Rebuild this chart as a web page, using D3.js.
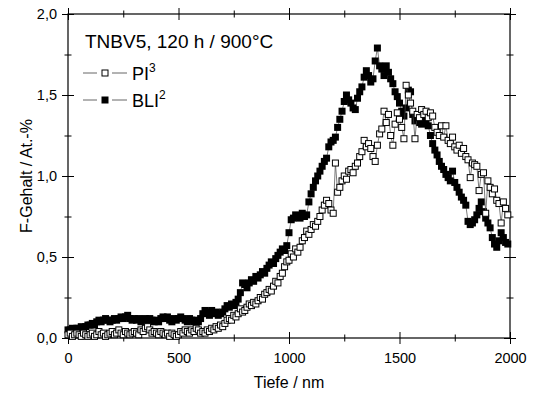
<!DOCTYPE html>
<html>
<head>
<meta charset="utf-8">
<script src="https://cdnjs.cloudflare.com/ajax/libs/d3/7.8.5/d3.min.js"></script>
<style>
  body { margin: 0; background: #fff; }
  svg { font-family: "Liberation Sans", Arial, sans-serif; }
</style>
</head>
<body>
<svg id="chart" width="535" height="394"></svg>
<script>
// depth in nm, shared by both profiles
const depth = [
    0, 10, 20, 30, 40, 50, 60, 70, 80, 90,
    100, 110, 120, 130, 140, 150, 160, 170, 180, 190,
    200, 210, 220, 230, 240, 250, 260, 270, 280, 290,
    300, 310, 320, 330, 340, 350, 360, 370, 380, 390,
    400, 410, 420, 430, 440, 450, 460, 470, 480, 490,
    500, 510, 520, 530, 540, 550, 560, 570, 580, 590,
    600, 610, 620, 630, 640, 650, 660, 670, 680, 690,
    700, 710, 720, 730, 740, 750, 760, 770, 780, 790,
    800, 810, 820, 830, 840, 850, 860, 870, 880, 890,
    900, 910, 920, 930, 940, 950, 960, 970, 980, 990,
    1000, 1010, 1020, 1030, 1040, 1050, 1060, 1070, 1080, 1090,
    1100, 1110, 1120, 1130, 1140, 1150, 1160, 1170, 1180, 1190,
    1200, 1210, 1220, 1230, 1240, 1250, 1260, 1270, 1280, 1290,
    1300, 1310, 1320, 1330, 1340, 1350, 1360, 1370, 1380, 1390,
    1400, 1410, 1420, 1430, 1440, 1450, 1460, 1470, 1480, 1490,
    1500, 1510, 1520, 1530, 1540, 1550, 1560, 1570, 1580, 1590,
    1600, 1610, 1620, 1630, 1640, 1650, 1660, 1670, 1680, 1690,
    1700, 1710, 1720, 1730, 1740, 1750, 1760, 1770, 1780, 1790,
    1800, 1810, 1820, 1830, 1840, 1850, 1860, 1870, 1880, 1890,
    1900, 1910, 1920, 1930, 1940, 1950, 1960, 1970, 1980, 1990
];

// F content (at.-%), PI^3 treatment (open squares)
const pi3 = [
    0.02, 0.03, 0.01, 0.02, 0.03, 0.02, 0.01, 0.03, 0.02, 0.01,
    0.02, 0.03, 0.01, 0.02, 0.04, 0.02, 0.03, 0.01, 0.02, 0.03,
    0.04, 0.02, 0.03, 0.05, 0.03, 0.02, 0.04, 0.03, 0.02, 0.03,
    0.04, 0.03, 0.02, 0.05, 0.04, 0.06, 0.07, 0.05, 0.03, 0.04,
    0.03, 0.02, 0.04, 0.03, 0.02, 0.03, 0.01, 0.03, 0.02, 0.01,
    0.02, 0.04, 0.03, 0.05, 0.04, 0.03, 0.05, 0.04, 0.06, 0.05,
    0.03, 0.04, 0.03, 0.05, 0.04, 0.06, 0.05, 0.07, 0.06, 0.08,
    0.07, 0.09, 0.11, 0.12, 0.11, 0.14, 0.13, 0.15, 0.18, 0.16,
    0.17, 0.19, 0.21, 0.20, 0.22, 0.21, 0.23, 0.25, 0.24, 0.27,
    0.28, 0.30, 0.29, 0.32, 0.35, 0.34, 0.38, 0.40, 0.44, 0.47,
    0.48, 0.52, 0.50, 0.55, 0.53, 0.56, 0.60, 0.62, 0.66, 0.64,
    0.67, 0.70, 0.69, 0.72, 0.75, 0.79, 0.82, 0.85, 0.83, 0.79,
    0.77, 1.08, 0.90, 0.93, 0.97, 1.00, 0.98, 1.03, 1.04, 1.02,
    1.06, 1.08, 1.12, 1.15, 1.22, 1.18, 1.20, 1.17, 1.12, 1.09,
    1.19, 1.26, 1.29, 1.40, 1.33, 1.38, 1.25, 1.19, 1.32, 1.39,
    1.35, 1.30, 1.23, 1.56, 1.50, 1.45, 1.40, 1.23, 1.38, 1.36,
    1.41, 1.38, 1.40, 1.36, 1.39, 1.37, 1.30, 1.27, 1.25, 1.31,
    1.24, 1.31, 1.22, 1.20, 1.24, 1.18, 1.16, 1.19, 1.14, 1.17,
    1.12, 1.10, 0.99, 1.08, 1.07, 1.06, 0.91, 1.01, 1.02, 0.77,
    0.97, 0.93, 0.89, 0.92, 0.85, 0.83, 0.71, 0.84, 0.80, 0.76
];

// F content (at.-%), BLI^2 treatment (filled squares)
const bli2 = [
    0.05, 0.05, 0.06, 0.05, 0.06, 0.06, 0.07, 0.06, 0.07, 0.08,
    0.08, 0.09, 0.08, 0.10, 0.11, 0.10, 0.11, 0.12, 0.11, 0.10,
    0.11, 0.12, 0.11, 0.12, 0.13, 0.12, 0.13, 0.14, 0.12, 0.11,
    0.12, 0.11, 0.12, 0.10, 0.11, 0.12, 0.11, 0.12, 0.11, 0.10,
    0.11, 0.10, 0.12, 0.13, 0.12, 0.13, 0.11, 0.10, 0.12, 0.11,
    0.12, 0.13, 0.12, 0.11, 0.10, 0.12, 0.11, 0.10, 0.11, 0.10,
    0.12, 0.15, 0.17, 0.16, 0.14, 0.17, 0.15, 0.16, 0.14, 0.15,
    0.16, 0.18, 0.20, 0.19, 0.21, 0.20, 0.22, 0.24, 0.28, 0.34,
    0.33, 0.31, 0.34, 0.36, 0.35, 0.38, 0.37, 0.39, 0.41, 0.40,
    0.43, 0.45, 0.47, 0.46, 0.49, 0.51, 0.53, 0.55, 0.54, 0.57,
    0.65, 0.73, 0.74, 0.76, 0.75, 0.74, 0.77, 0.75, 0.76, 0.84,
    0.89, 0.93, 0.97, 1.00, 1.03, 1.06, 1.09, 1.11, 1.18, 1.21,
    1.22, 1.24, 1.30, 1.35, 1.40, 1.46, 1.50, 1.47, 1.45, 1.42,
    1.41, 1.48, 1.52, 1.55, 1.61, 1.65, 1.62, 1.58, 1.60, 1.71,
    1.79, 1.68, 1.66, 1.62, 1.68, 1.64, 1.60, 1.57, 1.52, 1.49,
    1.45, 1.40, 1.37, 1.42, 1.53, 1.52, 1.38, 1.34, 1.37, 1.33,
    1.32, 1.36, 1.33, 1.31, 1.25, 1.20, 1.16, 1.13, 1.09, 1.06,
    1.04, 1.01, 0.99, 0.97, 1.03, 0.96, 0.93, 0.90, 0.87, 0.85,
    0.82, 0.72, 0.70, 0.71, 0.73, 0.76, 0.80, 0.84, 0.78, 0.74,
    0.71, 0.68, 0.62, 0.58, 0.56, 0.60, 0.65, 0.62, 0.59, 0.58
];

const xMajor = [0, 500, 1000, 1500, 2000];
const xMinor = [250, 750, 1250, 1750];
const yMajor = [0, 0.5, 1.0, 1.5, 2.0];
const yMinor = [0.25, 0.75, 1.25, 1.75];

const width = 535;
const height = 394;
const margin = { top: 14, right: 25, bottom: 56, left: 68 };

const svg = d3.select('#chart');

const x = d3.scaleLinear()
    .domain([0, 2000])
    .range([margin.left, width - margin.right]);

const y = d3.scaleLinear()
    .domain([0, 2])
    .range([height - margin.bottom, margin.top]);

const fmtY = d => d3.format('.1f')(d).replace('.', ',');

// helper: draw ticks that cross the axis line
function crossTicks(g, len, vertical) {
    g.select('.domain').remove();
    g.selectAll('.tick line')
        .attr(vertical ? 'x1' : 'y1', -len)
        .attr(vertical ? 'x2' : 'y2', len)
        .attr('stroke', '#000')
        .attr('stroke-width', 1);
}

const yBottom = y(0);
const yTop = y(2);
const xLeft = x(0);
const xRight = x(2000);

// bottom axis with labels
svg.append('g')
    .attr('transform', `translate(0,${yBottom})`)
    .call(d3.axisBottom(x).tickValues(xMajor).tickSize(6).tickPadding(9).tickFormat(d3.format('d')))
    .call(g => crossTicks(g, 6, false))
    .call(g => g.selectAll('text').attr('font-size', 14.5).attr('fill', '#000')
        .attr('font-family', '"Liberation Sans", Arial, sans-serif'));

svg.append('g')
    .attr('transform', `translate(0,${yBottom})`)
    .call(d3.axisBottom(x).tickValues(xMinor).tickFormat(''))
    .call(g => crossTicks(g, 3.5, false));

// top axis, ticks only
svg.append('g')
    .attr('transform', `translate(0,${yTop})`)
    .call(d3.axisTop(x).tickValues(xMajor).tickFormat(''))
    .call(g => crossTicks(g, 6, false));

svg.append('g')
    .attr('transform', `translate(0,${yTop})`)
    .call(d3.axisTop(x).tickValues(xMinor).tickFormat(''))
    .call(g => crossTicks(g, 3.5, false));

// left axis with labels
svg.append('g')
    .attr('transform', `translate(${xLeft},0)`)
    .call(d3.axisLeft(y).tickValues(yMajor).tickSize(6).tickPadding(4).tickFormat(fmtY))
    .call(g => crossTicks(g, 6, true))
    .call(g => g.selectAll('text').attr('x', -11).attr('font-size', 14.5).attr('fill', '#000')
        .attr('font-family', '"Liberation Sans", Arial, sans-serif'));

svg.append('g')
    .attr('transform', `translate(${xLeft},0)`)
    .call(d3.axisLeft(y).tickValues(yMinor).tickFormat(''))
    .call(g => crossTicks(g, 3.5, true));

// right axis, ticks only
svg.append('g')
    .attr('transform', `translate(${xRight},0)`)
    .call(d3.axisRight(y).tickValues(yMajor).tickFormat(''))
    .call(g => crossTicks(g, 6, true));

svg.append('g')
    .attr('transform', `translate(${xRight},0)`)
    .call(d3.axisRight(y).tickValues(yMinor).tickFormat(''))
    .call(g => crossTicks(g, 3.5, true));

// frame
svg.append('rect')
    .attr('x', xLeft)
    .attr('y', yTop)
    .attr('width', xRight - xLeft)
    .attr('height', yBottom - yTop)
    .attr('fill', 'none')
    .attr('stroke', '#000')
    .attr('stroke-width', 1.2);

// axis titles
svg.append('text')
    .attr('x', x(1000))
    .attr('y', 388)
    .attr('text-anchor', 'middle')
    .attr('font-size', 16)
    .text('Tiefe / nm');

svg.append('text')
    .attr('transform', `translate(32,${y(1)}) rotate(-90)`)
    .attr('text-anchor', 'middle')
    .attr('font-size', 16)
    .text('F-Gehalt / At.-%');

// build point lists
const bliData = depth.map((d, i) => ({ d, v: bli2[i] }));
const piData = depth.map((d, i) => ({ d, v: pi3[i] }));

const line = d3.line()
    .x(p => x(p.d))
    .y(p => y(p.v));

const sq = 7;

// BLI^2: line + filled squares
svg.append('path')
    .datum(bliData)
    .attr('d', line)
    .attr('fill', 'none')
    .attr('stroke', '#444')
    .attr('stroke-width', 0.7);

svg.selectAll('.bli')
    .data(bliData)
    .enter()
    .append('rect')
    .attr('class', 'bli')
    .attr('x', p => x(p.d) - sq / 2)
    .attr('y', p => y(p.v) - sq / 2)
    .attr('width', sq)
    .attr('height', sq)
    .attr('fill', '#000');

// PI^3: line + open squares
svg.append('path')
    .datum(piData)
    .attr('d', line)
    .attr('fill', 'none')
    .attr('stroke', '#444')
    .attr('stroke-width', 0.7);

svg.selectAll('.pi')
    .data(piData)
    .enter()
    .append('rect')
    .attr('class', 'pi')
    .attr('x', p => x(p.d) - (sq - 1) / 2)
    .attr('y', p => y(p.v) - (sq - 1) / 2)
    .attr('width', sq - 1)
    .attr('height', sq - 1)
    .attr('fill', '#fff')
    .attr('stroke', '#000')
    .attr('stroke-width', 1);

// title
svg.append('text')
    .attr('x', 85)
    .attr('y', 48)
    .attr('font-size', 19)
    .text('TNBV5, 120 h / 900°C');

// legend
const legend = [
    { name: 'PI', sup: '3', open: true, yy: 73 },
    { name: 'BLI', sup: '2', open: false, yy: 100 }
];

const lg = svg.selectAll('.lg')
    .data(legend)
    .enter()
    .append('g')
    .attr('class', 'lg')
    .attr('transform', d => `translate(0,${d.yy})`);

lg.append('line')
    .attr('x1', 83).attr('x2', 97)
    .attr('stroke', '#666').attr('stroke-width', 1);
lg.append('line')
    .attr('x1', 112).attr('x2', 127)
    .attr('stroke', '#666').attr('stroke-width', 1);

lg.append('rect')
    .attr('x', d => d.open ? 102 : 101.5)
    .attr('y', d => d.open ? -3 : -3.5)
    .attr('width', d => d.open ? 6 : 7)
    .attr('height', d => d.open ? 6 : 7)
    .attr('fill', d => d.open ? '#fff' : '#000')
    .attr('stroke', d => d.open ? '#000' : 'none')
    .attr('stroke-width', 1);

const lt = lg.append('text')
    .attr('x', 132)
    .attr('y', 7)
    .attr('font-size', 18);
lt.append('tspan').text(d => d.name);
lt.append('tspan')
    .attr('font-size', 12)
    .attr('dy', -8)
    .text(d => d.sup);
</script>
</body>
</html>
